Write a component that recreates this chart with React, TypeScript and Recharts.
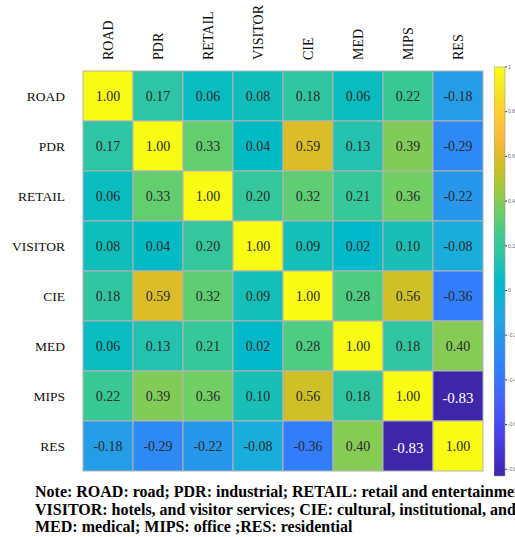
import React from "react";
import { Bar, BarChart, Scatter, ScatterChart, XAxis, YAxis } from "recharts";

// categorias (linhas e colunas na mesma ordem)
const CATEGORIAS = ["ROAD", "PDR", "RETAIL", "VISITOR", "CIE", "MED", "MIPS", "RES"];

// matriz de correlação, uma linha por categoria
const ROAD = [1.0, 0.17, 0.06, 0.08, 0.18, 0.06, 0.22, -0.18];
const PDR = [0.17, 1.0, 0.33, 0.04, 0.59, 0.13, 0.39, -0.29];
const RETAIL = [0.06, 0.33, 1.0, 0.2, 0.32, 0.21, 0.36, -0.22];
const VISITOR = [0.08, 0.04, 0.2, 1.0, 0.09, 0.02, 0.1, -0.08];
const CIE = [0.18, 0.59, 0.32, 0.09, 1.0, 0.28, 0.56, -0.36];
const MED = [0.06, 0.13, 0.21, 0.02, 0.28, 1.0, 0.18, 0.4];
const MIPS = [0.22, 0.39, 0.36, 0.1, 0.56, 0.18, 1.0, -0.83];
const RES = [-0.18, -0.29, -0.22, -0.08, -0.36, 0.4, -0.83, 1.0];
const LINHAS = [ROAD, PDR, RETAIL, VISITOR, CIE, MED, MIPS, RES];

// escala de cores
const ESCALA_MIN = -0.83;
const ESCALA_MAX = 1;
const TICKS_BARRA = [1, 0.8, 0.6, 0.4, 0.2, 0, -0.2, -0.4, -0.6, -0.8];

const NOTA = [
  "Note: ROAD: road; PDR: industrial; RETAIL: retail and entertainment;",
  "VISITOR: hotels, and visitor services; CIE: cultural, institutional, and educational;",
  "MED: medical; MIPS: office ;RES: residential",
];

// parula (64 cores)
const PARULA: number[][] = [
  [0.2422, 0.1504, 0.6603], [0.2504, 0.165, 0.7076], [0.2578, 0.1818, 0.7511], [0.2647, 0.1978, 0.7952],
  [0.2706, 0.2147, 0.8364], [0.2751, 0.2342, 0.871], [0.2783, 0.2559, 0.8991], [0.2803, 0.2782, 0.9221],
  [0.2813, 0.3006, 0.9414], [0.281, 0.3228, 0.9579], [0.2795, 0.3447, 0.9717], [0.276, 0.3667, 0.9829],
  [0.2699, 0.3892, 0.9906], [0.2602, 0.4123, 0.9952], [0.244, 0.4358, 0.9988], [0.2206, 0.4603, 0.9973],
  [0.1963, 0.4847, 0.9892], [0.1834, 0.5074, 0.9798], [0.1786, 0.5289, 0.9682], [0.1764, 0.5499, 0.952],
  [0.1687, 0.5703, 0.9359], [0.154, 0.5902, 0.9218], [0.146, 0.6091, 0.9079], [0.138, 0.6276, 0.8973],
  [0.1248, 0.6459, 0.8883], [0.1113, 0.6635, 0.8763], [0.0952, 0.6798, 0.8598], [0.0689, 0.6948, 0.8394],
  [0.0297, 0.7082, 0.8163], [0.0036, 0.7203, 0.7917], [0.0067, 0.7312, 0.766], [0.0433, 0.7411, 0.7394],
  [0.0964, 0.75, 0.712], [0.1408, 0.7584, 0.6842], [0.1717, 0.767, 0.6554], [0.1938, 0.7758, 0.6251],
  [0.2161, 0.7843, 0.5923], [0.247, 0.7918, 0.5567], [0.2906, 0.7973, 0.5188], [0.3406, 0.8008, 0.4789],
  [0.3909, 0.8029, 0.4354], [0.4456, 0.8024, 0.3909], [0.5044, 0.7993, 0.348], [0.5616, 0.7942, 0.3045],
  [0.6174, 0.7876, 0.2612], [0.672, 0.7793, 0.2227], [0.7242, 0.7698, 0.191], [0.7738, 0.7598, 0.1646],
  [0.8203, 0.7498, 0.1535], [0.8634, 0.7406, 0.1596], [0.9035, 0.733, 0.1774], [0.9393, 0.7288, 0.21],
  [0.9728, 0.7298, 0.2394], [0.9956, 0.7434, 0.2371], [0.997, 0.7659, 0.2199], [0.9952, 0.7893, 0.2028],
  [0.9892, 0.8136, 0.1885], [0.9786, 0.8386, 0.1766], [0.9676, 0.8639, 0.1643], [0.961, 0.889, 0.1537],
  [0.9597, 0.9135, 0.1423], [0.9628, 0.9373, 0.1265], [0.9691, 0.9606, 0.1064], [0.9769, 0.9839, 0.0805],
];

const rgb = (c: number[]) => `rgb(${c.map((a) => Math.round(a * 255)).join(",")})`;

function parula(t: number) {
  const p = Math.max(0, Math.min(1, t)) * (PARULA.length - 1);
  const i = Math.min(PARULA.length - 2, Math.floor(p));
  const f = p - i;
  return rgb(PARULA[i].map((a, k) => a + (PARULA[i + 1][k] - a) * f));
}

const corDe = (v: number) => parula((v - ESCALA_MIN) / (ESCALA_MAX - ESCALA_MIN));

const dados = LINHAS.flatMap((linha, y) => linha.map((v, x) => ({ x, y, v })));
const barra = [{ nome: "escala", faixa: [ESCALA_MIN, ESCALA_MAX] }];

const SERIF = '"Liberation Serif", "Times New Roman", Times, serif';
const LARGURA = 515;
const ALTURA = 480;
const EIXO_Y_W = 83;
const MARGEM = { top: 70, right: 32, bottom: 9, left: 0 };
const CEL_W = (LARGURA - EIXO_Y_W - MARGEM.right) / CATEGORIAS.length;
const CEL_H = (ALTURA - MARGEM.top - 1 - MARGEM.bottom) / CATEGORIAS.length;

function Celula(props: any) {
  const { cx, cy, payload } = props;
  const v: number = payload.v;
  const escuro = v < -0.6;
  return (
    <g>
      <rect
        x={cx - CEL_W / 2}
        y={cy - CEL_H / 2}
        width={CEL_W}
        height={CEL_H}
        fill={corDe(v)}
        stroke="#b4b4b4"
        strokeWidth={1}
      />
      <text
        x={cx}
        y={cy + (escuro ? 2 : 0)}
        textAnchor="middle"
        dominantBaseline="central"
        style={{ fontFamily: SERIF, fontSize: escuro ? 15 : 14 }}
        fill={escuro ? "#fff" : "#2b2b2b"}
      >
        {v.toFixed(2)}
      </text>
    </g>
  );
}

function TickColuna(props: any) {
  const { x, payload } = props;
  return (
    <text
      transform={`translate(${x},60) rotate(-90)`}
      textAnchor="start"
      dominantBaseline="central"
      style={{ fontFamily: SERIF, fontSize: 14 }}
      fill="#111"
    >
      {CATEGORIAS[payload.value]}
    </text>
  );
}

function TickLinha(props: any) {
  const { y, payload } = props;
  return (
    <text
      x={65}
      y={y}
      textAnchor="end"
      dominantBaseline="central"
      style={{ fontFamily: SERIF, fontSize: 13.5 }}
      fill="#111"
    >
      {CATEGORIAS[payload.value]}
    </text>
  );
}

export default function App() {
  const idx = CATEGORIAS.map((_, i) => i);
  return (
    <div style={{ position: "absolute", left: 0, top: 0, width: LARGURA, height: 537, background: "#fff" }}>
      <ScatterChart width={LARGURA} height={ALTURA} margin={MARGEM}>
        <XAxis
          type="number"
          dataKey="x"
          orientation="top"
          domain={[-0.5, 7.5]}
          ticks={idx}
          height={1}
          axisLine={false}
          tickLine={false}
          interval={0}
          tick={<TickColuna />}
        />
        <YAxis
          type="number"
          dataKey="y"
          domain={[-0.5, 7.5]}
          reversed
          ticks={idx}
          width={EIXO_Y_W}
          axisLine={false}
          tickLine={false}
          interval={0}
          tick={<TickLinha />}
        />
        <Scatter data={dados} shape={<Celula />} isAnimationActive={false} />
      </ScatterChart>

      {/* barra de cores */}
      <div style={{ position: "absolute", left: 494, top: 0 }}>
        <BarChart
          width={40}
          height={537}
          data={barra}
          margin={{ top: 67, right: 0, bottom: 61, left: 0 }}
          barCategoryGap={0}
        >
          <defs>
            <linearGradient id="parula" x1="0" y1="1" x2="0" y2="0">
              {PARULA.map((c, i) => (
                <stop key={i} offset={i / (PARULA.length - 1)} stopColor={rgb(c)} />
              ))}
            </linearGradient>
          </defs>
          <XAxis dataKey="nome" hide />
          <YAxis
            orientation="right"
            type="number"
            domain={[ESCALA_MIN, ESCALA_MAX]}
            ticks={TICKS_BARRA}
            interval={0}
            width={29}
            axisLine={false}
            tickSize={2}
            tickMargin={1}
            tickLine={{ stroke: "#444" }}
            tick={{ fontFamily: "Arial, sans-serif", fontSize: 5, fill: "#666" }}
          />
          <Bar
            dataKey="faixa"
            fill="url(#parula)"
            stroke="#999"
            strokeWidth={0.6}
            isAnimationActive={false}
          />
        </BarChart>
      </div>

      <div
        style={{
          position: "absolute",
          left: 35,
          top: 483,
          width: 480,
          overflow: "hidden",
          whiteSpace: "nowrap",
          fontFamily: SERIF,
          fontWeight: "bold",
          fontSize: 16,
          lineHeight: "17.5px",
          color: "#000",
        }}
      >
        {NOTA.map((l, i) => (
          <div key={i}>{l}</div>
        ))}
      </div>
    </div>
  );
}
